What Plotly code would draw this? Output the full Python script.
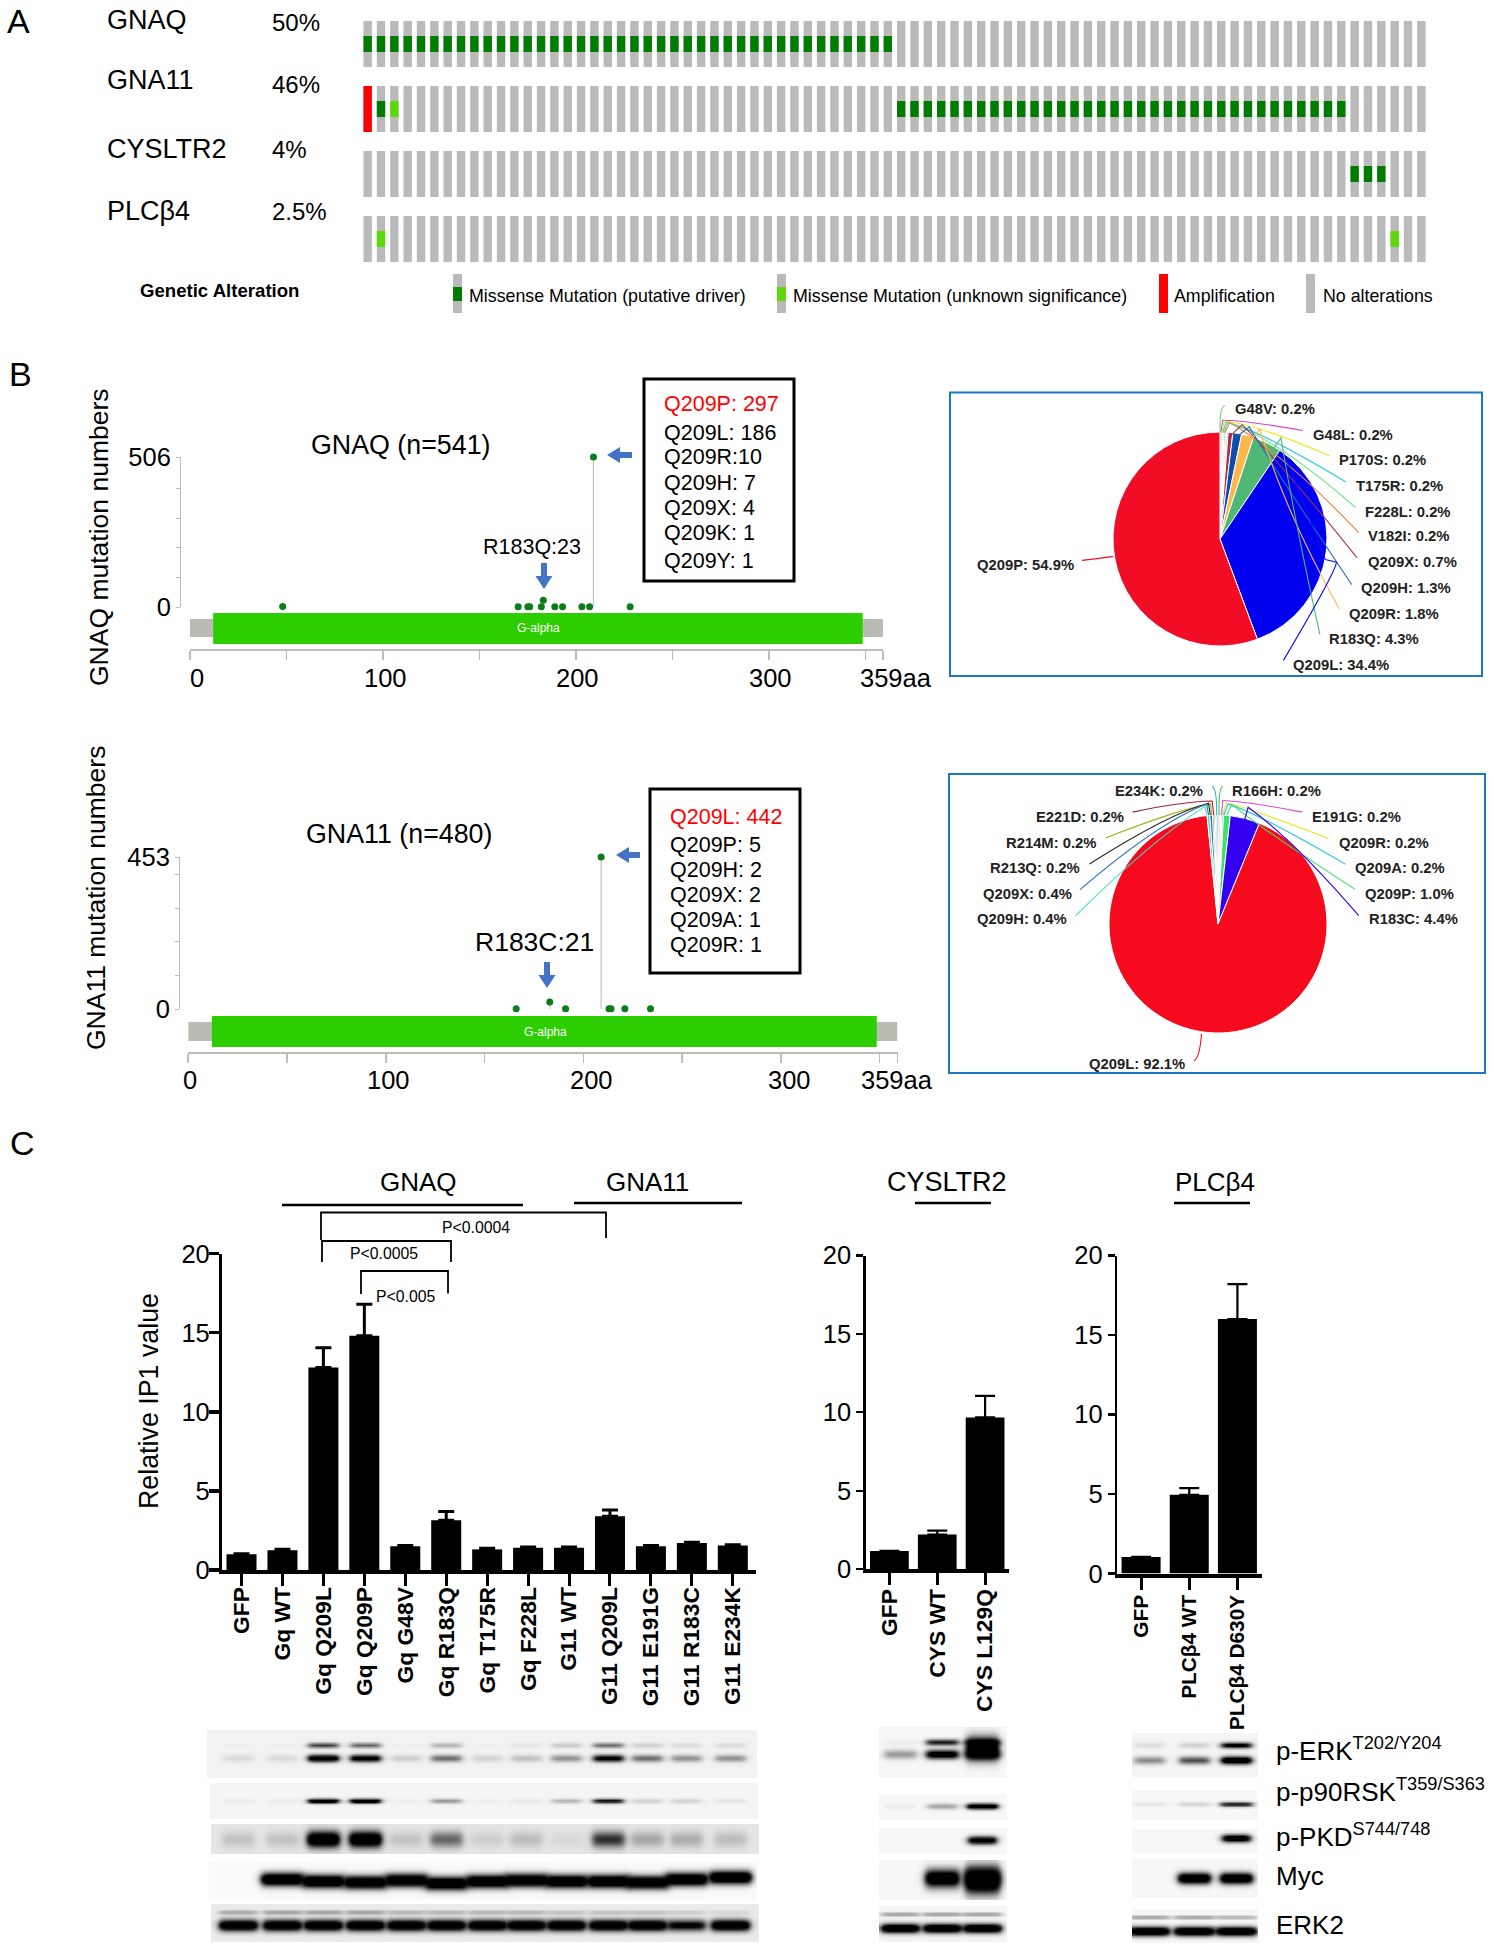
import numpy as np
import plotly.graph_objects as go

W, H = 1494, 1950
FONT = "Liberation Sans"

# ---------- Panel A data ----------
GENES = ["GNAQ", "GNA11", "CYSLTR2", "PLCβ4"]
PCTS = ["50%", "46%", "4%", "2.5%"]
N_COLS = 80
COLUMNS = list(range(N_COLS))
GNAQ_DRIVER = list(range(0, 40))
GNA11_DRIVER = [1] + list(range(40, 74))
GNA11_UNKNOWN = [2]
GNA11_AMP = [0]
CYS_DRIVER = [74, 75, 76]
PLC_UNKNOWN = [1, 77]

# ---------- Panel B data ----------
GNAQ_POS = [48, 170, 175, 176, 182, 183, 189, 193, 203, 207, 209, 228]
GNAQ_CNT = [2, 1, 1, 1, 1, 23, 1, 1, 1, 1, 506, 1]
GNA11_POS = [166, 183, 191, 209, 213, 214, 221, 234]
GNA11_CNT = [1, 21, 1, 453, 1, 1, 1, 1]
GNAQ_BOX = ["Q209P: 297", "Q209L: 186", "Q209R:10", "Q209H: 7", "Q209X: 4", "Q209K: 1", "Q209Y: 1"]
GNA11_BOX = ["Q209L: 442", "Q209P: 5", "Q209H: 2", "Q209X: 2", "Q209A: 1", "Q209R: 1"]

PIE1_NAMES = ["G48V", "G48L", "P170S", "T175R", "F228L", "V182I", "Q209X", "Q209H", "Q209R", "R183Q", "Q209L", "Q209P"]
PIE1_VALUES = [0.2, 0.2, 0.2, 0.2, 0.2, 0.2, 0.7, 1.3, 1.8, 4.3, 34.4, 54.9]
PIE1_COLORS = ["#7ccf6b", "#d946d0", "#e8e820", "#20c8e0", "#70e090", "#f08040",
               "#a8324f", "#0a4fb0", "#ffb84d", "#4fb874", "#0000f0", "#f20d26"]
PIE2_NAMES = ["R166H", "E191G", "Q209R", "Q209A", "Q209P", "R183C", "Q209L", "Q209H", "Q209X", "R213Q", "R214M", "E221D", "E234K"]
PIE2_VALUES = [0.2, 0.2, 0.2, 0.2, 1.0, 4.4, 92.1, 0.4, 0.4, 0.2, 0.2, 0.2, 0.2]
PIE2_COLORS = ["#7ccf6b", "#d946d0", "#e8e820", "#20c8e0", "#3fe06b", "#3300f0", "#f50a1e",
               "#40e0c0", "#2a70c0", "#202020", "#a0b020", "#a02040", "#30b0d0"]

# ---------- Panel C data ----------
MAIN_CATS = ["GFP", "Gq WT", "Gq Q209L", "Gq Q209P", "Gq G48V", "Gq R183Q", "Gq T175R", "Gq F228L",
             "G11 WT", "G11 Q209L", "G11 E191G", "G11 R183C", "G11 E234K"]
MAIN_VALS = [1.0, 1.25, 12.8, 14.8, 1.5, 3.15, 1.3, 1.4, 1.4, 3.4, 1.5, 1.7, 1.55]
MAIN_ERR = [0.02, 0.06, 1.25, 2.0, 0.05, 0.55, 0.07, 0.05, 0.05, 0.4, 0.05, 0.05, 0.05]
CYS_CATS = ["GFP", "CYS WT", "CYS L129Q"]
CYS_VALS = [1.15, 2.2, 9.67]
CYS_ERR = [0.0, 0.25, 1.38]
PLC_CATS = ["GFP", "PLCβ4 WT", "PLCβ4 D630Y"]
PLC_VALS = [1.05, 4.95, 16.0]
PLC_ERR = [0.0, 0.42, 2.2]

# ---------- Western blot band intensities (per lane) ----------
MAIN_LANES = [238, 282, 323, 365, 406, 446, 487, 526, 566, 608, 647, 686, 730]
MAIN_ERK_UP = [.03, .03, .62, .52, .03, .3, .03, .1, .22, .5, .2, .15, .15]
MAIN_ERK_LO = [.15, .15, .97, .88, .2, .5, .18, .25, .4, .82, .5, .4, .4]
MAIN_RSK = [.08, .08, 1, 1, .06, .4, .06, .1, .3, .78, .2, .2, .12]
MAIN_PKD = [.2, .2, 1, 1, .2, .5, .15, .22, .1, .65, .3, .28, .22]
MAIN_MYC = [0, 1, 1, 1, 1, 1, 1, 1, 1, 1, 1, 1, 1]
MAIN_MYC_SHIFT = [0, -1, 1, 2, 0, 3, 1, 0, 1, 1, 2, -1, -3]
MAIN_ERK2_UP = [.35, .38, .38, .38, .3, .3, .3, .3, .25, .25, .25, .2, .15]
MAIN_ERK2_LO = [1, 1, 1, 1, 1, 1, 1, 1, 1, 1, 1, .8, 1]
CYS_LANES = [900, 942, 982]
CYS_ERK_UP = [.08, .72, 1]
CYS_ERK_LO = [.38, .88, 1]
CYS_ERK_BLOB = [0, 0, 1]
CYS_RSK = [.08, .35, 1]
CYS_PKD = [0, 0, .9]
CYS_MYC = [0, .95, 1]
CYS_MYC_BLOB = [0, 0, 1]
CYS_ERK2_UP = [.42, .42, .42]
CYS_ERK2_LO = [1, 1, 1]
PLC_LANES = [1149, 1194, 1236]
PLC_ERK_UP = [.15, .2, .82]
PLC_ERK_LO = [.42, .58, .97]
PLC_RSK = [.12, .2, .75]
PLC_PKD = [0, .02, .92]
PLC_MYC = [0, 1, 1]
PLC_ERK2_UP = [.42, .42, .36]
PLC_ERK2_LO = [1, 1, 1]


def dx(a, b):
    return [a / W, b / W]


def dy(top, bottom):
    return [1 - bottom / H, 1 - top / H]


def px(x):
    return x / W


def py(y):
    return 1 - y / H


annotations, shapes, traces = [], [], []


def txt(x, y, s, size=26, anchor="left", color="black", bold=False, family=FONT, angle=0):
    annotations.append(dict(x=px(x), y=py(y), xref="paper", yref="paper", text=s, showarrow=False,
                            xanchor=anchor, yanchor="middle", textangle=angle, borderpad=0, borderwidth=0,
                            font=dict(family=family, size=size, color=color,
                                      weight="bold" if bold else "normal")))


def rect(x0, y0, x1, y1, fill=None, line=None, lw=0):
    shapes.append(dict(type="rect", xref="paper", yref="paper", x0=px(x0), x1=px(x1), y0=py(y0), y1=py(y1),
                       fillcolor=fill if fill else "rgba(0,0,0,0)",
                       line=dict(color=line if line else "rgba(0,0,0,0)", width=lw)))


def seg(x0, y0, x1, y1, color="black", lw=2.5):
    shapes.append(dict(type="line", xref="paper", yref="paper", x0=px(x0), x1=px(x1), y0=py(y0), y1=py(y1),
                       line=dict(color=color, width=lw)))


def poly(points, fill):
    d = "M " + " L ".join(f"{px(a):.5f},{py(b):.5f}" for a, b in points) + " Z"
    shapes.append(dict(type="path", xref="paper", yref="paper", path=d, fillcolor=fill,
                       line=dict(color=fill, width=0)))


def down_arrow(x, top, bottom):
    poly([(x - 3, top), (x + 3, top), (x + 3, bottom - 13), (x + 8.5, bottom - 13), (x, bottom),
          (x - 8.5, bottom - 13), (x - 3, bottom - 13)], "#4472c4")


def left_arrow(tip, tail, y):
    poly([(tip, y), (tip + 13, y - 8), (tip + 13, y - 3), (tail, y - 3), (tail, y + 3), (tip + 13, y + 3),
          (tip + 13, y + 8)], "#4472c4")


# ---------- Panel A ----------
GRAY, DARK, LIGHT, RED = "#bababa", "#007c00", "#5ad80c", "#ff0000"
BW = 0.63
A_H = 46 / 65
A_B = 16 / 65


def onco(cols, row, color, full):
    h = A_H if full else A_B
    traces.append(go.Bar(x=cols, y=[h] * len(cols), base=[row - h / 2] * len(cols), width=BW,
                         marker=dict(color=color, line=dict(width=0)), xaxis="x", yaxis="y",
                         showlegend=False, hoverinfo="skip"))


for r in [3, 2, 1, 0]:
    onco(COLUMNS, r, GRAY, True)
onco(GNAQ_DRIVER, 3, DARK, False)
onco(GNA11_DRIVER, 2, DARK, False)
onco(GNA11_UNKNOWN, 2, LIGHT, False)
onco(GNA11_AMP, 2, RED, True)
onco(CYS_DRIVER, 1, DARK, False)
onco(PLC_UNKNOWN, 0, LIGHT, False)

txt(7, 21, "A", 34)
txt(9, 374, "B", 34)
txt(10, 1143, "C", 34)
for g, yy in zip(GENES, [20, 80, 149, 211]):
    txt(107, yy, g, 27)
for p_, yy in zip(PCTS, [22, 85, 150, 212]):
    txt(272, yy, p_, 24)
txt(140, 290, "Genetic Alteration", 18.6, bold=True)
for x0, inner, label, tx in [(453, DARK, "Missense Mutation (putative driver)", 469),
                             (777, LIGHT, "Missense Mutation (unknown significance)", 793),
                             (1159, None, "Amplification", 1174),
                             (1306, None, "No alterations", 1322.5)]:
    base_c = RED if label == "Amplification" else GRAY
    rect(x0, 274, x0 + 9, 313, fill=base_c)
    if inner:
        rect(x0, 287, x0 + 9, 301, fill=inner)
    txt(tx, 296, label, 17.8)


# ---------- Panel B lollipops ----------
def lollipop(pos, cnt, xa, ya, stem_bottom):
    traces.append(go.Scatter(x=pos, y=cnt, mode="markers", xaxis=xa, yaxis=ya, cliponaxis=False,
                             marker=dict(color="#0b7d1a", size=7),
                             error_y=dict(type="data", symmetric=False, array=[0] * len(cnt),
                                          arrayminus=[c + stem_bottom for c in cnt], width=0,
                                          color="#c4c4c4", thickness=1.2),
                             showlegend=False, hoverinfo="skip"))


lollipop(GNAQ_POS, GNAQ_CNT, "x2", "y2", 20)
lollipop(GNA11_POS, GNA11_CNT, "x3", "y3", 20)


def domain_rects(xa, y_g0, y_g1, y_r0, y_r1, label_y, label_x, end):
    shapes.append(dict(type="rect", xref=xa, yref="paper", x0=0, x1=end, y0=py(y_g1), y1=py(y_g0),
                       fillcolor="#babbb3", line=dict(width=0), layer="below"))
    shapes.append(dict(type="rect", xref=xa, yref="paper", x0=12, x1=348.5, y0=py(y_r1), y1=py(y_r0),
                       fillcolor="#2dce00", line=dict(width=0), layer="below"))
    txt(label_x, label_y, "G-alpha", 12, anchor="center", color="white")


domain_rects("x2", 619, 637, 613, 644, 628, 538, 359)
domain_rects("x3", 1022, 1041, 1016, 1047, 1032, 545, 359)
for x_, s_ in zip([197, 385, 577, 770, 896], ["0", "100", "200", "300", "359aa"]):
    txt(x_, 678, s_, 25.5, anchor="center")
for x_, s_ in zip([190, 388, 591, 789, 897], ["0", "100", "200", "300", "359aa"]):
    txt(x_, 1080, s_, 25.5, anchor="center")

txt(99, 537, "GNAQ mutation numbers", 26.5, anchor="center", angle=-90)
txt(96, 898, "GNA11 mutation numbers", 26.5, anchor="center", angle=-90)
txt(400, 445, "GNAQ (n=541)", 26.8, anchor="center")
txt(399, 834, "GNA11 (n=480)", 26.8, anchor="center")
txt(532, 547, "R183Q:23", 21.5, anchor="center")
txt(534, 942, "R183C:21", 26.5, anchor="center")
down_arrow(544, 563, 589)
down_arrow(547, 962, 988)
left_arrow(607, 632, 455)
left_arrow(616, 640, 855)

rect(644, 379, 794, 581, line="black", lw=3)
for s_, yy, c_ in zip(GNAQ_BOX, [404, 433, 457, 483, 508, 533, 561], ["#ff0000"] + ["black"] * 6):
    txt(664, yy, s_, 21.5, color=c_)
rect(650, 789, 800, 973, line="black", lw=3)
for s_, yy, c_ in zip(GNA11_BOX, [817, 845, 870, 895, 920, 945], ["#ff0000"] + ["black"] * 5):
    txt(670, yy, s_, 21.5, color=c_)

# ---------- Pies ----------
BOXC = "#1c78c4"
rect(950, 392.5, 1482, 676, line=BOXC, lw=2)
rect(949, 774, 1485, 1073, line=BOXC, lw=2)


def pie(names, values, colors, cx, cy, r):
    traces.append(go.Pie(labels=names, values=values, sort=False, direction="clockwise", rotation=0,
                         textinfo="none", hoverinfo="skip", showlegend=False,
                         marker=dict(colors=colors, line=dict(color="white", width=1)),
                         domain=dict(x=dx(cx - r, cx + r), y=dy(cy - r, cy + r))))


pie(PIE1_NAMES, PIE1_VALUES, PIE1_COLORS, 1220, 539, 107)
pie(PIE2_NAMES, PIE2_VALUES, PIE2_COLORS, 1218, 924, 109)


def zx(d):
    return 940 + d / 2.83


def zy(d):
    return 380 + d / 2.24


def leader(color, a, c, e, f=None):
    d = f"M {px(zx(a[0])):.5f},{py(zy(a[1])):.5f} Q {px(zx(c[0])):.5f},{py(zy(c[1])):.5f} {px(zx(e[0])):.5f},{py(zy(e[1])):.5f}"
    if f:
        d += f" L {px(zx(f[0])):.5f},{py(zy(f[1])):.5f}"
    shapes.append(dict(type="path", xref="paper", yref="paper", path=d, line=dict(color=color, width=1.1)))


PIE_FS = 14.8
pie1_pos = {"G48V": (1235, 409), "G48L": (1313, 434.5), "P170S": (1339, 460), "T175R": (1356, 486),
            "F228L": (1365, 512), "V182I": (1368, 536), "Q209X": (1368, 562), "Q209H": (1361, 588),
            "Q209R": (1349, 613.5), "R183Q": (1329, 639), "Q209L": (1293, 665), "Q209P": (977, 565)}
for n_, v_ in zip(PIE1_NAMES, PIE1_VALUES):
    txt(pie1_pos[n_][0], pie1_pos[n_][1], f"{n_}: {v_:.1f}%", PIE_FS, bold=True, color="#222222")
pie2_right = {"E234K": (1203, 791), "E221D": (1124, 817), "R214M": (1096, 842.5), "R213Q": (1080, 868),
              "Q209X": (1072, 894), "Q209H": (1067, 919), "Q209L": (1184.5, 1064)}
pie2_left = {"R166H": (1232, 791), "E191G": (1312, 817), "Q209R": (1339, 842.5), "Q209A": (1355, 868),
             "Q209P": (1365, 894), "R183C": (1369, 919)}
for n_, v_ in zip(PIE2_NAMES, PIE2_VALUES):
    if n_ in pie2_right:
        txt(pie2_right[n_][0], pie2_right[n_][1], f"{n_}: {v_:.1f}%", PIE_FS, anchor="right", bold=True, color="#222222")
    else:
        txt(pie2_left[n_][0], pie2_left[n_][1], f"{n_}: {v_:.1f}%", PIE_FS, bold=True, color="#222222")

for col, a, c, e, f in [
    ("#7ccf6b", (806, 57), (790, 60), (793, 118), None),
    ("#d946d0", (1027, 113), (860, 90), (800, 90), (795, 118)),
    ("#e8e820", (1103, 170), (900, 100), (805, 92), (797, 118)),
    ("#20c8e0", (1148, 228), (900, 110), (810, 95), (800, 118)),
    ("#70e090", (1175, 285), (950, 130), (815, 95), (803, 118)),
    ("#f08040", (1185, 342), (980, 170), (820, 95), (806, 118)),
    ("#a8324f", (1180, 398), (980, 200), (855, 100), (815, 130)),
    ("#2a6ab0", (1165, 458), (980, 240), (875, 105), (835, 130)),
    ("#ffb84d", (1130, 513), (980, 300), (905, 110), (870, 145)),
    ("#4fb874", (1075, 570), (1000, 300), (965, 130), (930, 170)),
    ("#1010ee", (972, 628), (1120, 430), (1122, 408), (1090, 402)),
    ("#f20d26", (402, 404), (450, 400), (490, 395), None),
    ("#3fc060", (800, 910), (788, 915), (790, 975), None),
    ("#30b0d0", (770, 910), (784, 915), (783, 975), None),
    ("#d946d0", (1025, 968), (880, 945), (800, 942), (797, 975)),
    ("#e8e820", (1100, 1027), (880, 960), (810, 947), (800, 975)),
    ("#20c8e0", (1148, 1085), (900, 970), (815, 950), (803, 975)),
    ("#3fe06b", (1175, 1141), (900, 1000), (825, 950), (812, 975)),
    ("#3300f0", (1185, 1200), (1000, 1030), (872, 957), (862, 985)),
    ("#a02040", (545, 968), (680, 945), (770, 943), (775, 975)),
    ("#a0b020", (468, 1026), (680, 960), (765, 950), (770, 975)),
    ("#202020", (423, 1084), (650, 970), (760, 948), (765, 975)),
    ("#2a70c0", (396, 1142), (620, 990), (755, 950), (760, 975)),
    ("#40e0c0", (384, 1200), (600, 1030), (750, 955), (755, 975)),
    ("#f50a1e", (718, 1525), (735, 1520), (740, 1465), None),
]:
    leader(col, a, c, e, f)
leader("#1010ee", (1090, 402), (1040, 300), (980, 175))


# ---------- Panel C ----------
def bars(cats, vals, errs, xa, ya, width, thick, cap):
    traces.append(go.Bar(x=cats, y=vals, width=width, xaxis=xa, yaxis=ya, showlegend=False, hoverinfo="skip",
                         marker=dict(color="black", line=dict(width=0)),
                         error_y=dict(type="data", symmetric=False, array=errs, arrayminus=[0] * len(errs),
                                      color="black", thickness=thick, width=cap)))


bars(MAIN_CATS, MAIN_VALS, MAIN_ERR, "x4", "y4", 0.733, 3, 8)
bars(CYS_CATS, CYS_VALS, CYS_ERR, "x5", "y5", 0.81, 2.2, 10)
bars(PLC_CATS, PLC_VALS, PLC_ERR, "x6", "y6", 0.81, 2.2, 10)

txt(418.5, 1182, "GNAQ", 26, anchor="center")
txt(647.4, 1182, "GNA11", 26, anchor="center")
txt(947, 1182, "CYSLTR2", 27, anchor="center")
txt(1214.6, 1182, "PLCβ4", 26, anchor="center")
seg(282, 1205, 523, 1205)
seg(574, 1203, 742, 1203)
seg(915, 1203, 991, 1203)
seg(1174, 1203, 1250, 1203)


def bracket(x0, x1, top, y_left, y_right):
    d = (f"M {px(x0):.5f},{py(y_left):.5f} L {px(x0):.5f},{py(top):.5f} "
         f"L {px(x1):.5f},{py(top):.5f} L {px(x1):.5f},{py(y_right):.5f}")
    shapes.append(dict(type="path", xref="paper", yref="paper", path=d, line=dict(color="black", width=1.8)))


bracket(321, 606, 1212.5, 1240, 1238)
bracket(322, 451, 1241, 1262, 1262)
bracket(361, 448, 1271, 1294, 1293.5)
txt(476, 1227, "P<0.0004", 15.8, anchor="center")
txt(384, 1253, "P<0.0005", 15.8, anchor="center")
txt(405.6, 1296, "P<0.005", 15.8, anchor="center")
txt(149, 1401, "Relative IP1 value", 26.8, anchor="center", angle=-90)


# ---------- Blots ----------
def blot(x0, x1, y0, y1, lanes, half, bands, bg):
    xs = np.arange(x0, x1 + 1, 2.0)
    ys = np.arange(y0, y1 + 1, 2.0)
    dark = np.full((len(ys), len(xs)), float(bg))
    for yc, sig, vals, shift in bands:
        sh = shift if shift else [0] * len(lanes)
        for lc, v, s_ in zip(lanes, vals, sh):
            lat = 0.5 * (np.tanh((xs - lc + half) / 4.0) - np.tanh((xs - lc - half) / 4.0))
            vert = np.exp(-((ys - yc - s_) / sig) ** 2)
            add = np.outer(vert, lat) * (v ** 1.4) * 1.5
            dark = 1 - (1 - dark) * (1 - np.clip(add, 0, 1))
    z = np.round(np.clip(dark, 0, 1), 3).tolist()
    traces.append(go.Heatmap(z=z, x0=x0, dx=2, y0=y0, dy=2, xaxis="x7", yaxis="y7", zmin=0, zmax=1,
                             colorscale=[[0, "#ffffff"], [1, "#000000"]], showscale=False,
                             zsmooth="best", hoverinfo="skip"))


blot(208, 756, 1731, 1777, MAIN_LANES, 15, [(1745, 2.5, MAIN_ERK_UP, None), (1758, 3.5, MAIN_ERK_LO, None)], .05)
blot(211, 758, 1784, 1819, MAIN_LANES, 15, [(1800.7, 2.2, MAIN_RSK, None)], .04)
blot(212, 759, 1825, 1853, MAIN_LANES, 16, [(1839, 8, MAIN_PKD, None)], .1)
blot(210, 757, 1863, 1899, MAIN_LANES, 21, [(1880, 6.5, MAIN_MYC, MAIN_MYC_SHIFT)], .02)
blot(212, 759, 1905, 1942, MAIN_LANES, 19, [(1912, 1.8, MAIN_ERK2_UP, None), (1925, 5.5, MAIN_ERK2_LO, None)], .08)
blot(880, 1006, 1728, 1777, CYS_LANES, 16, [(1742, 3, CYS_ERK_UP, None), (1754, 4.5, CYS_ERK_LO, None),
                                             (1748, 11, CYS_ERK_BLOB, None)], .03)
blot(880, 1006, 1795, 1819, CYS_LANES, 15, [(1806, 2.8, CYS_RSK, None)], .03)
blot(880, 1006, 1829, 1853, CYS_LANES, 14, [(1840, 4, CYS_PKD, None)], .03)
blot(880, 1006, 1861, 1900, CYS_LANES, 17, [(1878, 9, CYS_MYC, None), (1880, 13, CYS_MYC_BLOB, None)], .03)
blot(880, 1006, 1907, 1942, CYS_LANES, 19, [(1914, 1.6, CYS_ERK2_UP, None), (1928, 4.5, CYS_ERK2_LO, None)], .04)
blot(1133, 1258, 1734, 1776, PLC_LANES, 15, [(1745, 2.8, PLC_ERK_UP, None), (1760, 3.8, PLC_ERK_LO, None)], .04)
blot(1133, 1258, 1791, 1819, PLC_LANES, 16, [(1804, 2.2, PLC_RSK, None)], .03)
blot(1133, 1258, 1830, 1853, PLC_LANES, 14, [(1838, 3.8, PLC_PKD, None)], .03)
blot(1133, 1258, 1859, 1898, PLC_LANES, 16, [(1878, 5.5, PLC_MYC, None)], .03)
blot(1133, 1258, 1910, 1942, PLC_LANES, 20, [(1917, 1.6, PLC_ERK2_UP, None), (1931, 4.5, PLC_ERK2_LO, None)], .03)

for s_, yy in zip(["p-ERK<sup>T202/Y204</sup>", "p-p90RSK<sup>T359/S363</sup>", "p-PKD<sup>S744/748</sup>", "Myc", "ERK2"],
                  [1749, 1790, 1835, 1876, 1925]):
    txt(1276, yy, s_, 26)

fig = go.Figure(traces)


def hidden(**kw):
    return dict(visible=False, fixedrange=True, **kw)


def bar_x(domain, anchor, cats, rng, lw, size=22.8, standoff=-8):
    return dict(domain=domain, anchor=anchor, type="category", categoryorder="array", categoryarray=cats,
                range=rng, showline=True, linecolor="black", linewidth=lw, ticks="outside", ticklen=12,
                tickwidth=3 if lw > 3.5 else 2, tickcolor="black", tickangle=-90, tickmode="array", tickvals=cats,
                ticktext=cats, showgrid=False, zeroline=False, automargin=False, ticklabelstandoff=standoff,
                tickfont=dict(family=FONT, size=size, color="black", weight="bold"))


def bar_y(domain, anchor, lw, tlen, standoff):
    return dict(domain=domain, anchor=anchor, range=[0, 20], tickvals=[0, 5, 10, 15, 20], showline=True,
                linecolor="black", linewidth=lw, ticks="outside", ticklen=tlen, tickwidth=lw, tickcolor="black",
                showgrid=False, zeroline=False, automargin=False, ticklabelstandoff=standoff,
                tickfont=dict(family=FONT, size=25.5, color="black"))


def lolli_x(domain, y_line):
    return dict(domain=domain, anchor="free", position=py(y_line), range=[0, 359],
                tickvals=[0, 50, 100, 150, 200, 250, 300, 350, 359], showticklabels=False,
                ticks="outside", ticklen=9, tickwidth=1.5, tickcolor="#bdbdbd", automargin=False,
                showline=True, linecolor="#bdbdbd", linewidth=2, showgrid=False, zeroline=False)


def lolli_y(domain, top, xpos, vals, minor_vals):
    return dict(domain=domain, anchor="free", position=px(xpos), range=[0, top], tickvals=vals,
                ticktext=[str(v) for v in vals], ticks="outside", ticklen=4, tickwidth=1, tickcolor="#bdbdbd",
                minor=dict(tickmode="array", tickvals=minor_vals, ticks="outside", ticklen=4, tickwidth=1,
                           tickcolor="#bdbdbd", showgrid=False),
                showline=True, linecolor="#bdbdbd", linewidth=1.2, automargin=False,
                showgrid=False, zeroline=False, tickfont=dict(family=FONT, size=25.5, color="black"))


fig.update_layout(
    template="none",
    width=W, height=H, autosize=False, margin=dict(l=0, r=0, t=0, b=0, pad=0),
    paper_bgcolor="white", plot_bgcolor="rgba(0,0,0,0)", barmode="overlay",
    font=dict(family=FONT, color="black"), showlegend=False,
    xaxis=hidden(domain=dx(361, 1428), range=[-0.5, N_COLS - 0.5], anchor="y"),
    yaxis=hidden(domain=dy(21, 262), range=[-23 / 65, 3 + 23 / 65], anchor="x"),
    xaxis2=lolli_x(dx(190, 883), 650),
    yaxis2=lolli_y(dy(457, 607), 506, 180, [0, 506], [100, 200, 300, 400]),
    xaxis3=lolli_x(dx(188.2, 897.5), 1053),
    yaxis3=lolli_y(dy(857, 1009), 453, 179, [0, 453], [100, 200, 300, 400]),
    xaxis4=bar_x(dx(222.4, 755.6), "y4", MAIN_CATS, [-0.467, 12.557], 4),
    yaxis4=bar_y(dy(1253.6, 1570), "x4", 3.5, 10, -6),
    xaxis5=bar_x(dx(865.5, 1009), "y5", CYS_CATS, [-0.5, 2.5], 4, standoff=-5),
    yaxis5=bar_y(dy(1255.5, 1569), "x5", 2.2, 7, 0),
    xaxis6=bar_x(dx(1117, 1261.5), "y6", PLC_CATS, [-0.5, 2.5], 4, size=20.8, standoff=-3),
    yaxis6=bar_y(dy(1255.5, 1573.6), "x6", 2.2, 7, 0),
    xaxis7=hidden(domain=[0, 1], range=[0, W], anchor="y7"),
    yaxis7=hidden(domain=[0, 1], range=[H, 0], anchor="x7"),
    annotations=annotations, shapes=shapes,
)

fig.write_html("out.html", config=dict(displayModeBar=False, staticPlot=True),
               post_script="document.body.style.margin='0';document.documentElement.style.overflow='hidden';")
